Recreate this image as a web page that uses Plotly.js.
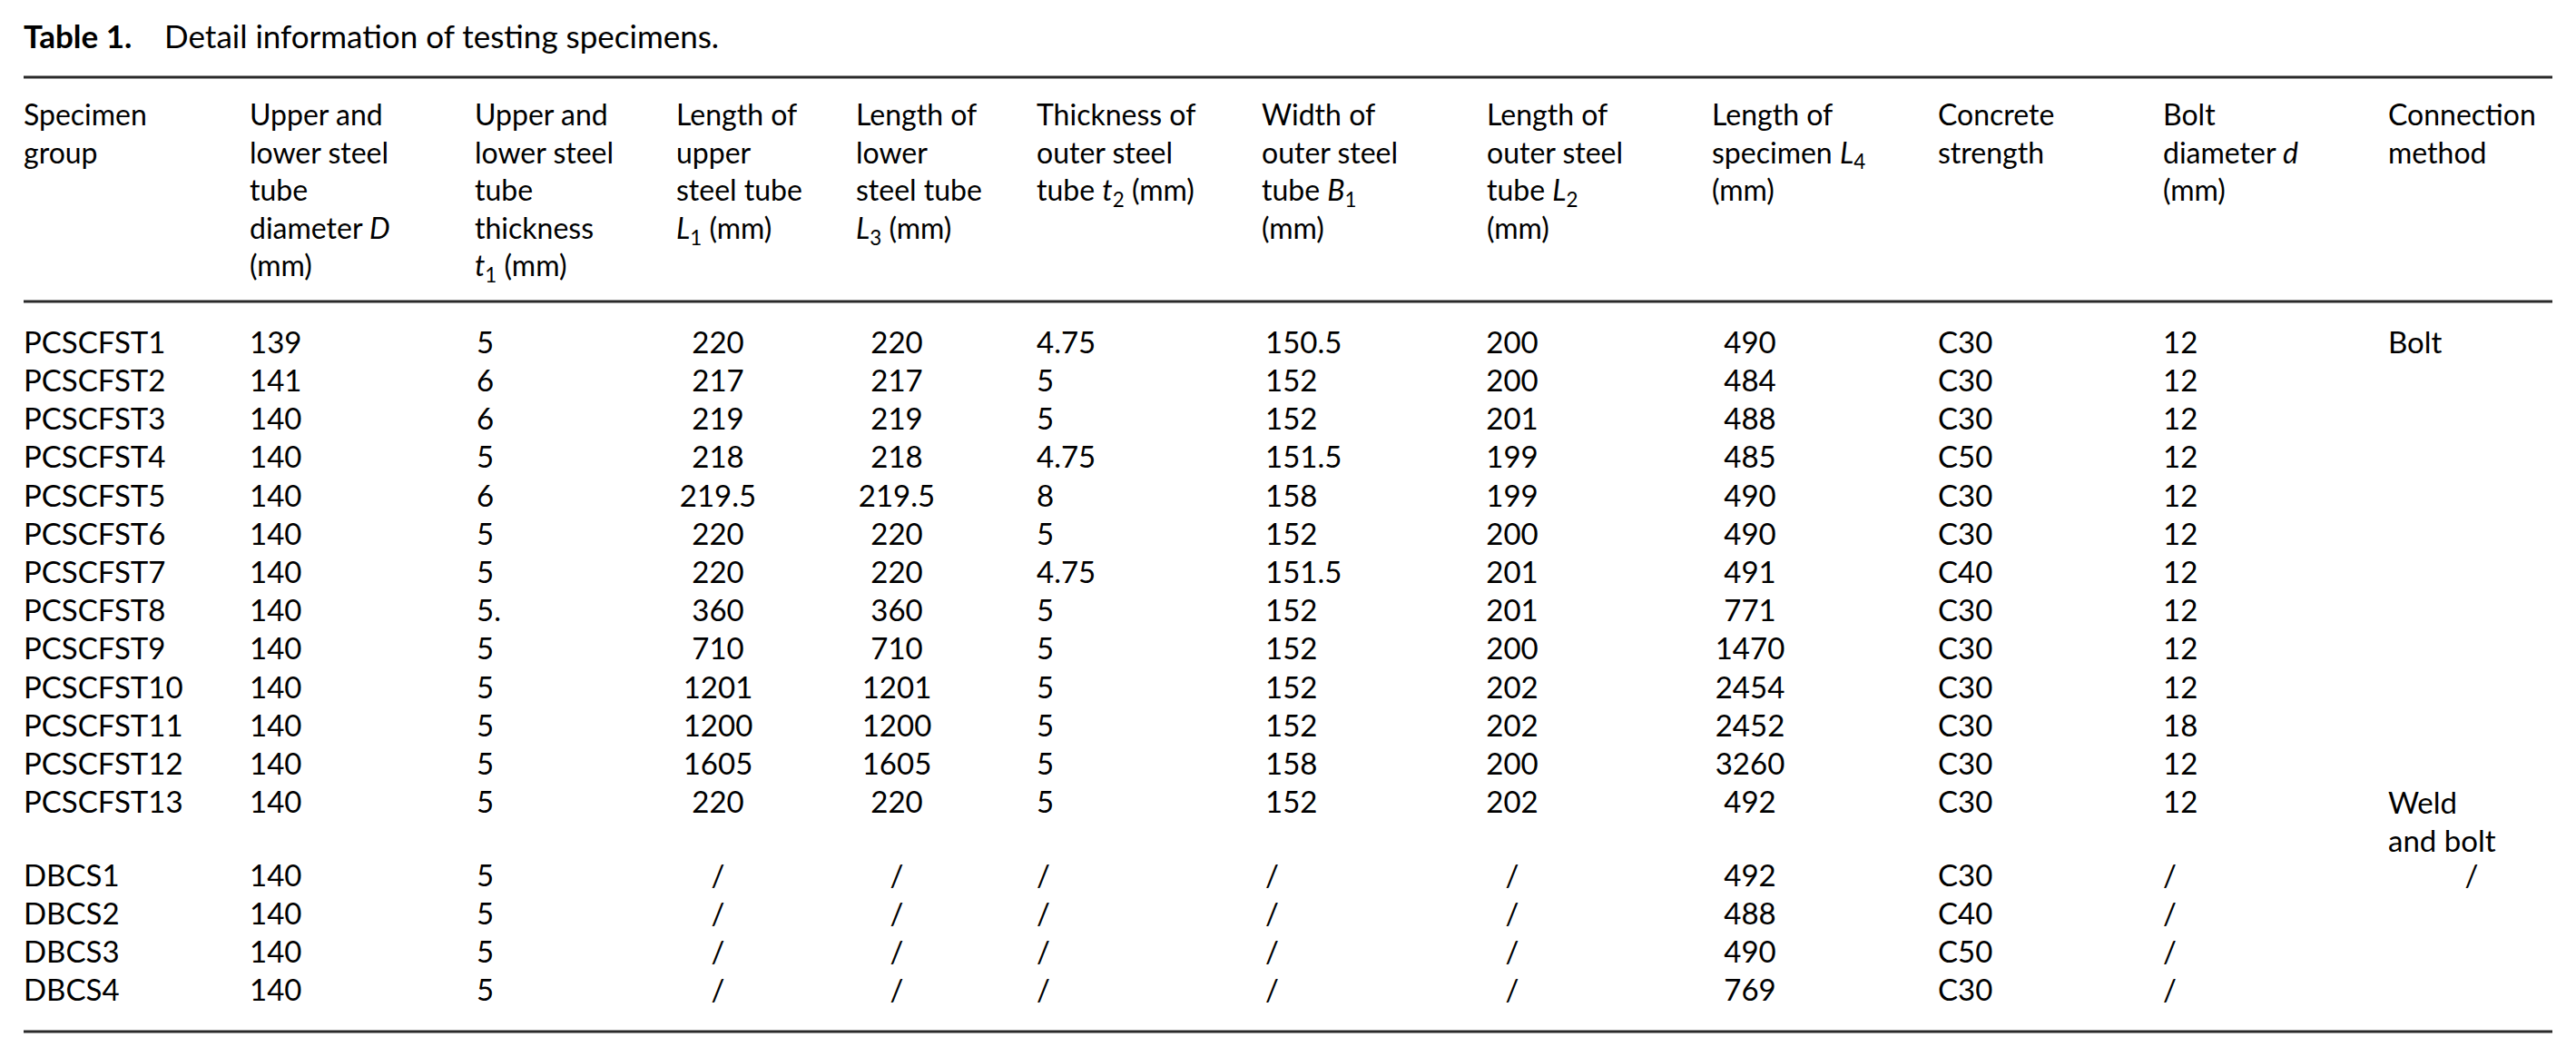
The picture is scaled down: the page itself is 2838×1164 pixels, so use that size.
<!DOCTYPE html>
<html>
<head>
<meta charset="utf-8">
<script src="https://cdn.plot.ly/plotly-3.0.1.min.js"></script>
<style>html,body{margin:0;padding:0;background:#fff;}#chart{width:2838px;height:1164px;}</style>
</head>
<body>
<div id="chart"></div>
<script>
// ---------- data ----------
const headers = [
  "Specimen<br>group",
  "Upper and<br>lower steel<br>tube<br>diameter <i>D</i><br>(mm)",
  "Upper and<br>lower steel<br>tube<br>thickness<br><i>t</i><sub>1</sub> (mm)",
  "Length of<br>upper<br>steel tube<br><i>L</i><sub>1</sub> (mm)",
  "Length of<br>lower<br>steel tube<br><i>L</i><sub>3</sub> (mm)",
  "Thickness of<br>outer steel<br>tube <i>t</i><sub>2</sub> (mm)",
  "Width of<br>outer steel<br>tube <i>B</i><sub>1</sub><br>(mm)",
  "Length of<br>outer steel<br>tube <i>L</i><sub>2</sub><br>(mm)",
  "Length of<br>specimen <i>L</i><sub>4</sub><br>(mm)",
  "Concrete<br>strength",
  "Bolt<br>diameter <i>d</i><br>(mm)",
  "Connection<br>method"
];
const specimenGroup = ["PCSCFST1","PCSCFST2","PCSCFST3","PCSCFST4","PCSCFST5","PCSCFST6","PCSCFST7","PCSCFST8","PCSCFST9","PCSCFST10","PCSCFST11","PCSCFST12","PCSCFST13","DBCS1","DBCS2","DBCS3","DBCS4"];
const tubeDiameterD = [139,141,140,140,140,140,140,140,140,140,140,140,140,140,140,140,140];
const tubeThicknessT1 = [5,6,6,5,6,5,5,"5.",5,5,5,5,5,5,5,5,5];
const upperLengthL1 = [220,217,219,218,219.5,220,220,360,710,1201,1200,1605,220,"/","/","/","/"];
const lowerLengthL3 = [220,217,219,218,219.5,220,220,360,710,1201,1200,1605,220,"/","/","/","/"];
const outerThicknessT2 = [4.75,5,5,4.75,8,5,4.75,5,5,5,5,5,5,"/","/","/","/"];
const outerWidthB1 = [150.5,152,152,151.5,158,152,151.5,152,152,152,152,158,152,"/","/","/","/"];
const outerLengthL2 = [200,200,201,199,199,200,201,201,200,202,202,200,202,"/","/","/","/"];
const specimenLengthL4 = [490,484,488,485,490,490,491,771,1470,2454,2452,3260,492,492,488,490,769];
const concreteStrength = ["C30","C30","C30","C50","C30","C30","C40","C30","C30","C30","C30","C30","C30","C30","C40","C50","C30"];
const boltDiameterD = [12,12,12,12,12,12,12,12,12,12,18,12,12,"/","/","/","/"];
const connectionMethod = ["Bolt","","","","","","","","","","","","Weld<br>and bolt","/","","",""];

// ---------- layout constants ----------
const W = 2838, H = 1164;
const px = v => v / W;
const py = v => 1 - v / H;
const widths = e => e.slice(1).map((v, i) => v - e[i]);
const headerEdges = [18, 267, 515, 737, 935, 1134, 1382, 1630, 1878, 2127, 2375, 2623, 2823];
const bodyEdges   = [18, 267, 517, 740, 842, 1134, 1386, 1603, 1729, 2127, 2375, 2623, 2823];
const bodyAlign = ["left","left","left","center","center","left","left","center","center","left","left","left"];
const dbcsAlign = ["left","left","left","center","center","left","left","center","center","left","left","center"];
const ROW_H = 42.2;
const MARKUP_SHIFT = 7.8;   // multi-line cells sit lower in plotly tables; compensate via row height
const FONT = 'Lato, "Open Sans", sans-serif';
const INK = "#000000";
const NONE = "rgba(0,0,0,0)";

const columns = [specimenGroup, tubeDiameterD, tubeThicknessT1, upperLengthL1, lowerLengthL3,
  outerThicknessT2, outerWidthB1, outerLengthL2, specimenLengthL4, concreteStrength, boltDiameterD, connectionMethod];
const nPCS = 13;
const nCols = columns.length;
const pcsCols = columns.map(c => c.slice(0, nPCS));
const dbcsCols = columns.map(c => c.slice(nPCS));

const headerTrace = {
  type: "table",
  domain: {x: [px(headerEdges[0]), px(headerEdges[nCols])], y: [py(600), py(98)]},
  columnwidth: widths(headerEdges),
  header: {
    values: headers,
    align: "left",
    height: 234,
    line: {width: 0, color: NONE},
    fill: {color: NONE},
    font: {family: FONT, size: 32, color: INK}
  },
  cells: {values: [], line: {width: 0, color: NONE}, fill: {color: NONE}}
};

function bodyTrace(cols, edges, align, top, bottom, rowH) {
  return {
    type: "table",
    domain: {x: [px(edges[0]), px(edges[edges.length - 1])], y: [py(bottom), py(top)]},
    columnwidth: widths(edges),
    header: {line: {width: 0, color: NONE}, fill: {color: NONE}},
    cells: {
      values: cols,
      align: align,
      height: rowH,
      line: {width: 0, color: NONE},
      fill: {color: NONE},
      font: {family: FONT, size: 33, color: INK}
    }
  };
}

const rule = y => ({type: "line", xref: "paper", yref: "paper",
  x0: px(26), x1: px(2812), y0: py(y), y1: py(y), line: {color: "#2a2a2a", width: 3}});

const layout = {
  width: W, height: H,
  margin: {l: 0, r: 0, t: 0, b: 0},
  paper_bgcolor: "#ffffff",
  plot_bgcolor: "#ffffff",
  title: {
    text: "<b>Table 1.</b>\u00a0\u00a0\u00a0 Detail information of testing specimens.",
    x: px(26), xref: "container", xanchor: "left",
    y: 1 - 28 / H, yref: "container", yanchor: "top",
    font: {family: FONT, size: 35, color: INK}
  },
  shapes: [rule(85), rule(332), rule(1136)],
  showlegend: false
};

const lastIdx = nCols - 1;
Plotly.newPlot("chart", [
  headerTrace,
  // PCSCFST group: all columns but the connection method
  bodyTrace(pcsCols.slice(0, lastIdx), bodyEdges.slice(0, nCols), bodyAlign.slice(0, lastIdx), 340, 1010, ROW_H),
  // PCSCFST group: connection method (contains a two-line cell)
  bodyTrace([pcsCols[lastIdx]], bodyEdges.slice(lastIdx), [bodyAlign[lastIdx]], 340, 1010,
            ROW_H - MARKUP_SHIFT / (nPCS - 1)),
  // DBCS group
  bodyTrace(dbcsCols, bodyEdges, dbcsAlign, 927, 1160, ROW_H)
], layout, {staticPlot: true, displayModeBar: false});
</script>
</body>
</html>
